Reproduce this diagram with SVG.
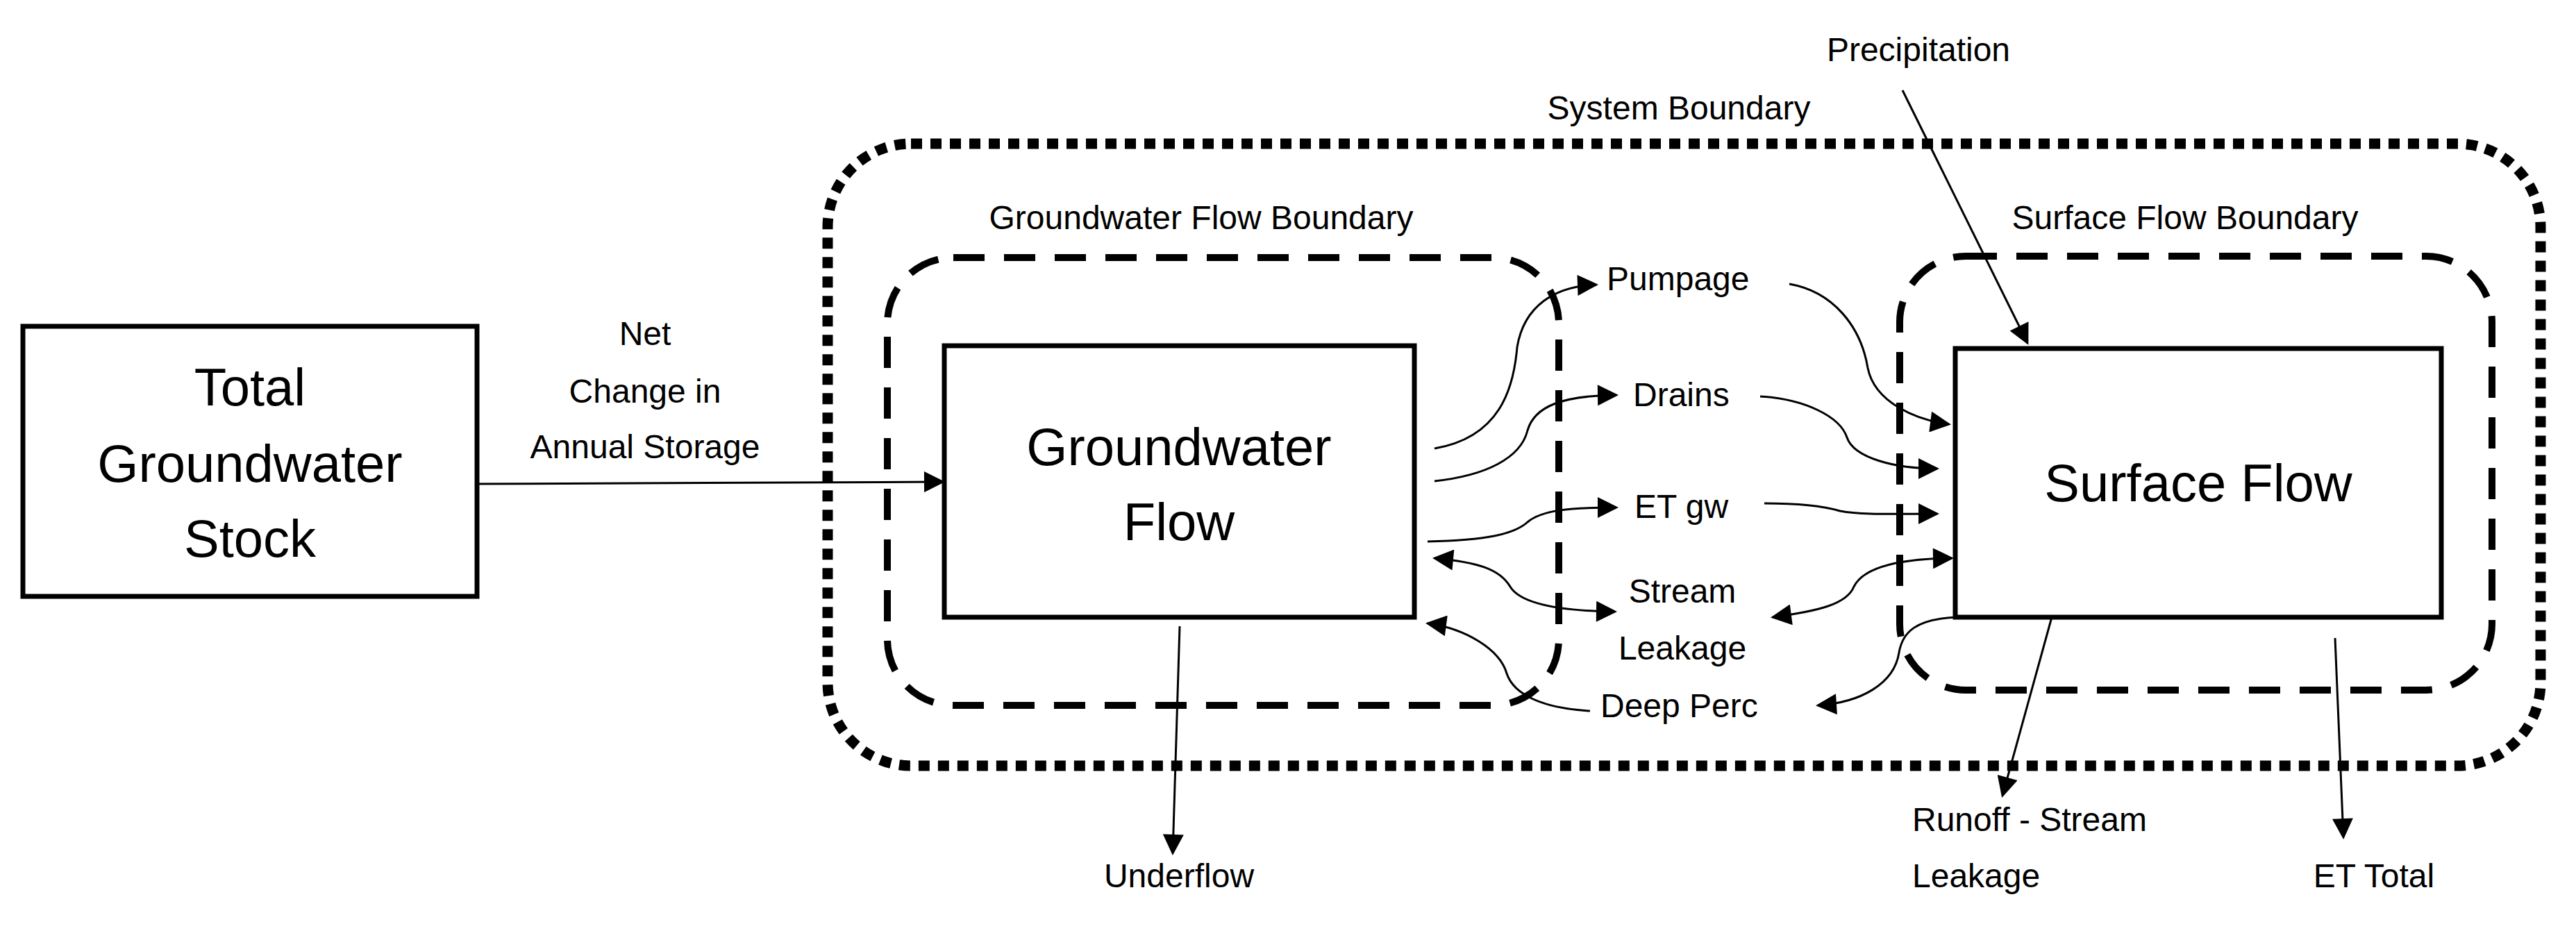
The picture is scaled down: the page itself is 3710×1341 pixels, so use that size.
<svg xmlns="http://www.w3.org/2000/svg" width="3710" height="1341" viewBox="0 0 3710 1341">
<style>
text{font-family:"Liberation Sans",Arial,sans-serif;fill:#000;text-anchor:middle}
.big{font-size:76px}
.lbl{font-size:48px}
.box{fill:#fff;stroke:#000;stroke-width:7}
.c{fill:none;stroke:#000;stroke-width:3}
</style>
<defs>
<marker id="ah" viewBox="0 0 10 10" refX="9" refY="5" markerWidth="34" markerHeight="30" markerUnits="userSpaceOnUse" orient="auto-start-reverse">
<path d="M0,0 L10,5 L0,10 z" fill="#000"/>
</marker>
</defs>
<rect width="3710" height="1341" fill="#fff"/>
<g id="system-boundary">
<rect x="1192" y="207" width="2467" height="896" rx="120" fill="none" stroke="#000" stroke-width="15" stroke-dasharray="16 12"/>
<text class="lbl" x="2418" y="172">System Boundary</text>
</g>
<g id="gw-boundary">
<rect x="1278" y="371" width="967" height="645" rx="95" fill="none" stroke="#000" stroke-width="10" stroke-dasharray="45 28"/>
<text class="lbl" x="1730" y="330">Groundwater Flow Boundary</text>
</g>
<g id="sf-boundary">
<rect x="2736" y="369" width="853" height="625" rx="95" fill="none" stroke="#000" stroke-width="10" stroke-dasharray="45 28"/>
<text class="lbl" x="3147" y="330">Surface Flow Boundary</text>
</g>
<g id="total-stock">
<rect class="box" x="33" y="470" width="654" height="389"/>
<text class="big" x="360" y="584">Total</text>
<text class="big" x="360" y="694">Groundwater</text>
<text class="big" x="360" y="802">Stock</text>
</g>
<g id="groundwater-flow">
<rect class="box" x="1360" y="498" width="677" height="391"/>
<text class="big" x="1698" y="670">Groundwater</text>
<text class="big" x="1698" y="778">Flow</text>
</g>
<g id="surface-flow">
<rect class="box" x="2816" y="502" width="700" height="387"/>
<text class="big" x="3166" y="722">Surface Flow</text>
</g>
<g id="labels">
<text class="lbl" x="929" y="497">Net</text>
<text class="lbl" x="929" y="580">Change in</text>
<text class="lbl" x="929" y="660">Annual Storage</text>
<text class="lbl" x="2763" y="88">Precipitation</text>
<text class="lbl" x="2314" y="418" style="text-anchor:start">Pumpage</text>
<text class="lbl" x="2352" y="585" style="text-anchor:start">Drains</text>
<text class="lbl" x="2354" y="746" style="text-anchor:start">ET gw</text>
<text class="lbl" x="2423" y="868">Stream</text>
<text class="lbl" x="2423" y="950">Leakage</text>
<text class="lbl" x="2305" y="1033" style="text-anchor:start">Deep Perc</text>
<text class="lbl" x="2754" y="1197" style="text-anchor:start">Runoff - Stream</text>
<text class="lbl" x="2754" y="1278" style="text-anchor:start">Leakage</text>
<text class="lbl" x="3419" y="1278">ET Total</text>
<text class="lbl" x="1698" y="1278">Underflow</text>
</g>
<g id="connectors">
<path class="c" d="M687,697 L1358,694" marker-end="url(#ah)"/>
<path class="c" d="M1699,902 L1689,1229" marker-end="url(#ah)"/>
<path class="c" d="M2740,130 L2920,494" marker-end="url(#ah)"/>
<path class="c" d="M2955,889 L2884,1146" marker-end="url(#ah)"/>
<path class="c" d="M3363,919 L3375,1206" marker-end="url(#ah)"/>
<path class="c" d="M2066,646 C2160,630 2180,560 2185,500 C2195,440 2240,412 2299,410" marker-end="url(#ah)"/>
<path class="c" d="M2577,409 C2640,420 2680,470 2690,530 C2700,580 2760,605 2807,611" marker-end="url(#ah)"/>
<path class="c" d="M2066,693 C2140,685 2190,660 2200,620 C2210,585 2250,570 2328,569" marker-end="url(#ah)"/>
<path class="c" d="M2535,571 C2600,575 2650,600 2660,630 C2670,660 2730,675 2790,675" marker-end="url(#ah)"/>
<path class="c" d="M2056,780 C2140,778 2180,770 2200,752 C2220,735 2260,731 2328,731" marker-end="url(#ah)"/>
<path class="c" d="M2541,725 C2600,725 2630,730 2650,736 C2680,742 2730,740 2790,740" marker-end="url(#ah)"/>
<path class="c" d="M2066,804 C2130,810 2160,820 2175,845 C2190,870 2250,880 2326,881" marker-start="url(#ah)" marker-end="url(#ah)"/>
<path class="c" d="M2553,889 C2620,880 2660,870 2670,845 C2685,815 2740,805 2811,804" marker-start="url(#ah)" marker-end="url(#ah)"/>
<path class="c" d="M2816,889 C2760,892 2740,910 2735,940 C2728,985 2680,1012 2618,1016" marker-end="url(#ah)"/>
<path class="c" d="M2290,1024 C2220,1020 2180,1000 2170,970 C2160,935 2110,905 2056,898" marker-end="url(#ah)"/>
</g>
</svg>
